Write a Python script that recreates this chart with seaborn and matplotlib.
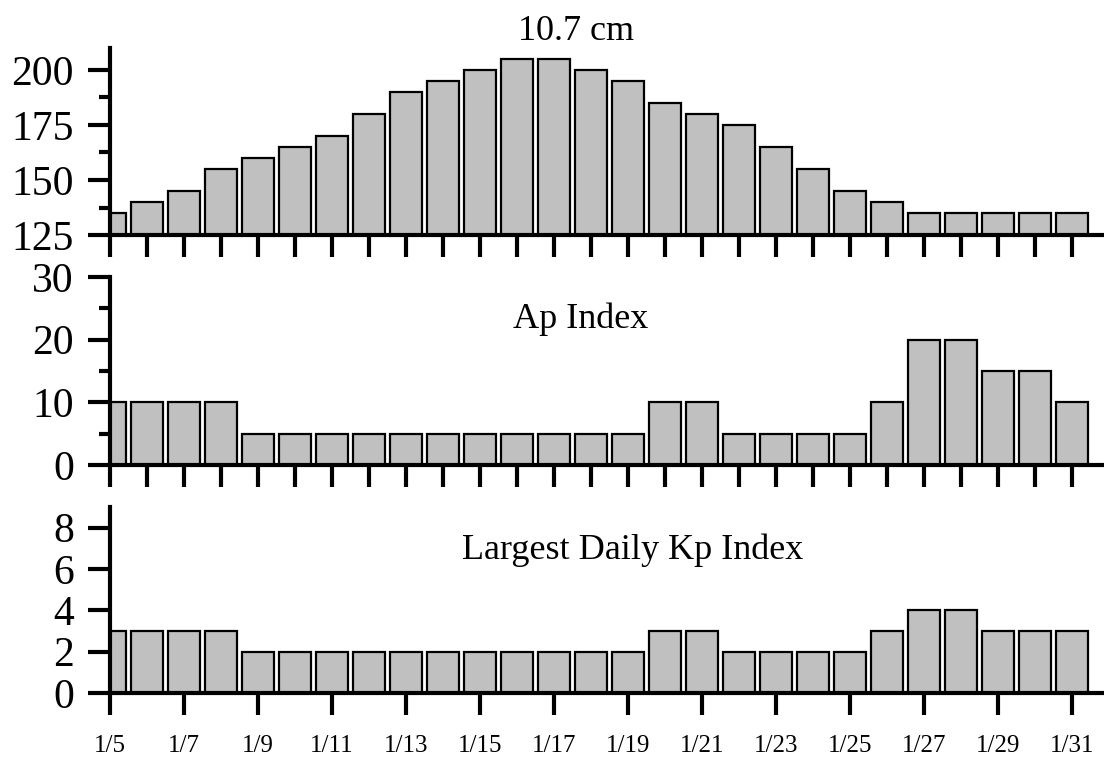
import matplotlib
matplotlib.use('Agg')
import matplotlib.pyplot as plt
import pandas as pd
import seaborn as sns
from matplotlib.ticker import MultipleLocator, FixedLocator

# Daily values, 1/5 .. 1/31
days = [f'1/{d}' for d in range(5, 32)]
flux_107 = [135, 140, 145, 155, 160, 165, 170, 180, 190, 195, 200, 205, 205, 200,
            195, 185, 180, 175, 165, 155, 145, 140, 135, 135, 135, 135, 135]
ap_index = [10, 10, 10, 10, 5, 5, 5, 5, 5, 5, 5, 5, 5, 5,
            5, 10, 10, 5, 5, 5, 5, 10, 20, 20, 15, 15, 10]
kp_max = [3, 3, 3, 3, 2, 2, 2, 2, 2, 2, 2, 2, 2, 2,
          2, 3, 3, 2, 2, 2, 2, 3, 4, 4, 3, 3, 3]

df = pd.DataFrame({'day': days, 'flux': flux_107, 'ap': ap_index, 'kp': kp_max})

sns.set_style('ticks')
plt.rcParams['font.family'] = ['Liberation Serif', 'DejaVu Serif']
for k in ['text.color', 'axes.edgecolor', 'axes.labelcolor',
          'xtick.color', 'ytick.color', 'xtick.labelcolor', 'ytick.labelcolor']:
    plt.rcParams[k] = 'black'

fig = plt.figure(figsize=(11.04, 7.57), dpi=100)
left, width = 110 / 1104, 1 - 110 / 1104
ax1 = fig.add_axes([left, 1 - 235 / 757, width, 187 / 757])
ax2 = fig.add_axes([left, 1 - 465 / 757, width, 188 / 757])
ax3 = fig.add_axes([left, 1 - 693 / 757, width, 186 / 757])

panels = [(ax1, 'flux', (125, 210), 25, 12.5),
          (ax2, 'ap', (0, 30), 10, 5),
          (ax3, 'kp', (0, 9), 2, None)]

for ax, col, ylim, major, minor in panels:
    sns.barplot(data=df, x='day', y=col, order=days, color='#c0c0c0',
                saturation=1, edgecolor='black', linewidth=1.6, width=0.87,
                ax=ax)
    ax.set_xlim(0, 26.86)
    ax.set_ylim(*ylim)
    ax.set_xlabel('')
    ax.set_ylabel('')
    for s in ['top', 'right']:
        ax.spines[s].set_visible(False)
    for s in ['left', 'bottom']:
        ax.spines[s].set_linewidth(3)
        ax.spines[s].set_zorder(5)
    ax.yaxis.set_major_locator(MultipleLocator(major))
    if minor:
        ax.yaxis.set_minor_locator(MultipleLocator(minor))
    ax.tick_params(axis='y', which='major', length=16, width=3,
                   labelsize=30, pad=10)
    ax.tick_params(axis='y', which='minor', length=8, width=3)
    ax.tick_params(axis='x', which='major', length=16, width=3)

# top two panels: a tick under every day, no labels
for ax in (ax1, ax2):
    ax.xaxis.set_major_locator(FixedLocator(range(len(days))))
    ax.set_xticklabels([])

# bottom panel: labels every second day
ax3.xaxis.set_major_locator(FixedLocator(range(0, len(days), 2)))
ax3.set_xticklabels(days[::2])
ax3.tick_params(axis='x', labelsize=18, pad=14)
ax3.set_yticks([0, 2, 4, 6, 8])

# panel titles (left edges)
ax1.text(0.4105, 1.043, '10.7 cm', transform=ax1.transAxes, ha='left',
         va='baseline', fontsize=26)
ax2.text(0.4054, 21.8, 'Ap Index', transform=ax2.get_yaxis_transform(),
         ha='left', va='baseline', fontsize=26)
ax3.text(0.354, 6.5, 'Largest Daily Kp Index',
         transform=ax3.get_yaxis_transform(), ha='left', va='baseline',
         fontsize=26)

fig.savefig('out.png', dpi=100)
